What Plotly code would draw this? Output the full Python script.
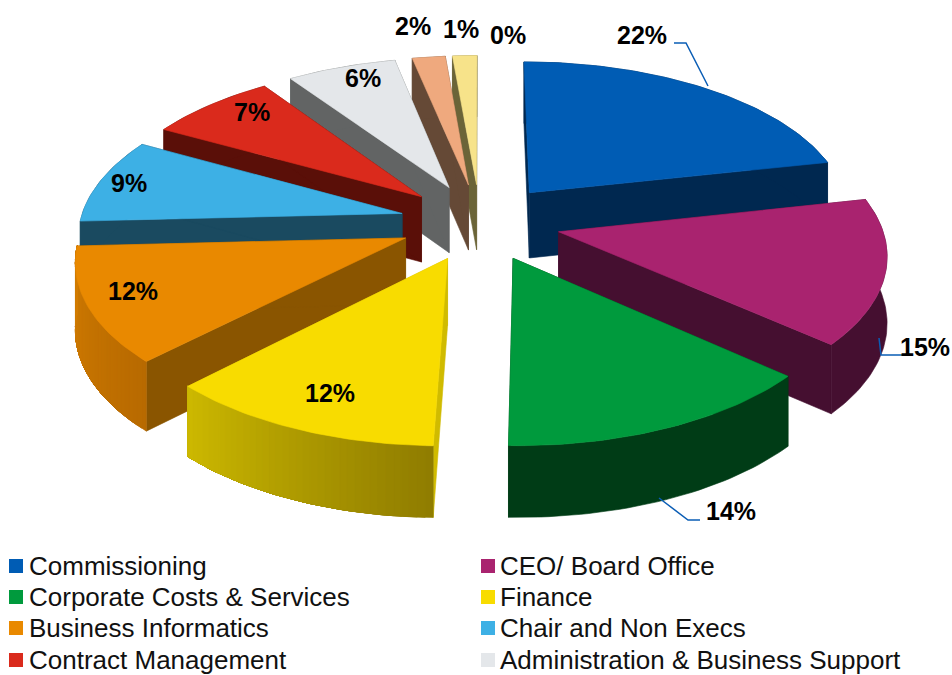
import math
import plotly.graph_objects as go

names = ["Commissioning", "CEO/ Board Office", "Corporate Costs & Services", "Finance",
         "Business Informatics", "Chair and Non Execs", "Contract Management",
         "Administration & Business Support", "Other A", "Other B", "Other C"]
values = [21.6, 14.9, 13.9, 12.0, 11.8, 8.8, 7.4, 6.3, 1.9, 1.4, 0.0]
labels = ["22%", "15%", "14%", "12%", "12%", "9%", "7%", "6%", "2%", "1%", "0%"]
top_colors = ["#005CB4", "#A9236F", "#009A3D", "#F8DC00", "#E98900", "#3DB0E5", "#DA2A1C",
              "#E4E7EA", "#EFA97E", "#F7E38A", "#F0F0F0"]
wall_colors = ["#002850", "#450F30", "#003C16", "#D0BB00", "#8A5500", "#1A4A60", "#5A0F08",
               "#626464", "#654936", "#6B6438", "#808080"]
rim_start = ["#002850", "#450F30", "#003C16", "#8F7C00", "#B86A00", "#1A4A60", "#5A0F08",
             "#626464", "#654936", "#6B6438", "#808080"]
rim_end = ["#002850", "#450F30", "#003C16", "#CDB900", "#D37D00", "#1A4A60", "#5A0F08",
           "#626464", "#654936", "#6B6438", "#808080"]
label_x = [642, 925, 731, 330, 133, 129, 252, 363, 413, 461, 508]
label_y = [35, 347, 511, 393, 291, 183, 112, 78, 26, 29, 35]

legend_names = names[:8]
legend_colors = top_colors[:8]
legend_col_marker = [16, 488]
legend_col_text = [29, 500]
legend_rows = [566, 597, 628, 660]

# projection parameters of the tilted pie
CX, CY, RX, RY, K, H, EXPLODE = 480, 222, 322, 154, 0.125, 66, 0.25


def proj(X, Y, z):
    w = 1 + K * Y
    return CX + RX * X / w, CY - RY * Y / w + H * z / w ** 0.5


def hex_mix(a, b, t):
    ca = [int(a[i:i + 2], 16) for i in (1, 3, 5)]
    cb = [int(b[i:i + 2], 16) for i in (1, 3, 5)]
    return "#" + "".join(f"{round(p + (q - p) * t):02X}" for p, q in zip(ca, cb))


fig = go.Figure()


def poly(points, color):
    xs, ys = zip(*points)
    fig.add_trace(go.Scatter(x=list(xs) + [xs[0]], y=list(ys) + [ys[0]], mode="lines", fill="toself",
                             fillcolor=color, line=dict(color=color, width=0.6),
                             hoverinfo="skip", showlegend=False))


slices = []
cum = 0
total = sum(values)
for i, v in enumerate(values):
    a0 = cum / total * 2 * math.pi
    cum += v
    a1 = cum / total * 2 * math.pi
    slices.append((i, v, a0, a1))

visible = [s for s in slices if s[1] > 0]
visible.sort(key=lambda s: -math.cos((s[2] + s[3]) / 2))

for i, v, a0, a1 in visible:
    mid = (a0 + a1) / 2
    ox, oy = EXPLODE * math.sin(mid), EXPLODE * math.cos(mid)
    n = max(4, int(v * 3))
    angs = [a0 + (a1 - a0) * j / n for j in range(n + 1)]
    rim = [(ox + math.sin(a), oy + math.cos(a)) for a in angs]
    # radial walls
    for a in (a0, a1):
        e = (ox + math.sin(a), oy + math.cos(a))
        poly([proj(ox, oy, 0), proj(*e, 0), proj(*e, 1), proj(ox, oy, 1)], wall_colors[i])
    # outer rim: uniform colour as one band, gradients as overlapping bands
    if rim_start[i] == rim_end[i]:
        poly([proj(*p, 0) for p in rim] + [proj(*p, 1) for p in reversed(rim)], rim_start[i])
    else:
        for j in range(n):
            c = hex_mix(rim_start[i], rim_end[i], (j + 0.5) / n)
            band = rim[j:]
            poly([proj(*p, 0) for p in band] + [proj(*p, 1) for p in reversed(band)], c)
    # top
    poly([proj(ox, oy, 0)] + [proj(*p, 0) for p in rim], top_colors[i])

# leader lines (Commissioning, CEO, Corporate)
for lx, ly in [([674, 686, 708], [43, 43, 86]), ([906, 881, 879], [355, 355, 338]),
               ([700, 688, 659], [520, 520, 498])]:
    fig.add_trace(go.Scatter(x=lx, y=ly, mode="lines", line=dict(color="#0A5DB5", width=1.5),
                             hoverinfo="skip", showlegend=False))

# legend swatches and text
for k, (nm, col) in enumerate(zip(legend_names, legend_colors)):
    c, r = k % 2, k // 2
    fig.add_trace(go.Scatter(x=[legend_col_marker[c]], y=[legend_rows[r]], mode="markers",
                             marker=dict(symbol="square", size=14, color=col),
                             hoverinfo="skip", showlegend=False))
    fig.add_annotation(x=legend_col_text[c], y=legend_rows[r], text=nm, showarrow=False, xanchor="left",
                       xshift=-2, yanchor="middle", font=dict(family="Liberation Sans", size=26, color="#111111"))

for t, x, y in zip(labels, label_x, label_y):
    fig.add_annotation(x=x, y=y, text=f"<b>{t}</b>", showarrow=False, xanchor="center", yanchor="middle",
                       font=dict(family="Liberation Sans", size=25, color="#000000"))

fig.update_layout(width=952, height=675, margin=dict(l=0, r=0, t=0, b=0), showlegend=False,
                  plot_bgcolor="#FFFFFF", paper_bgcolor="#FFFFFF",
                  xaxis=dict(range=[0, 952], visible=False, fixedrange=True),
                  yaxis=dict(range=[675, 0], visible=False, fixedrange=True))
fig.write_html("out.html", config={"displayModeBar": False},
               post_script="document.body.style.margin='0';document.documentElement.style.overflow='hidden';")
